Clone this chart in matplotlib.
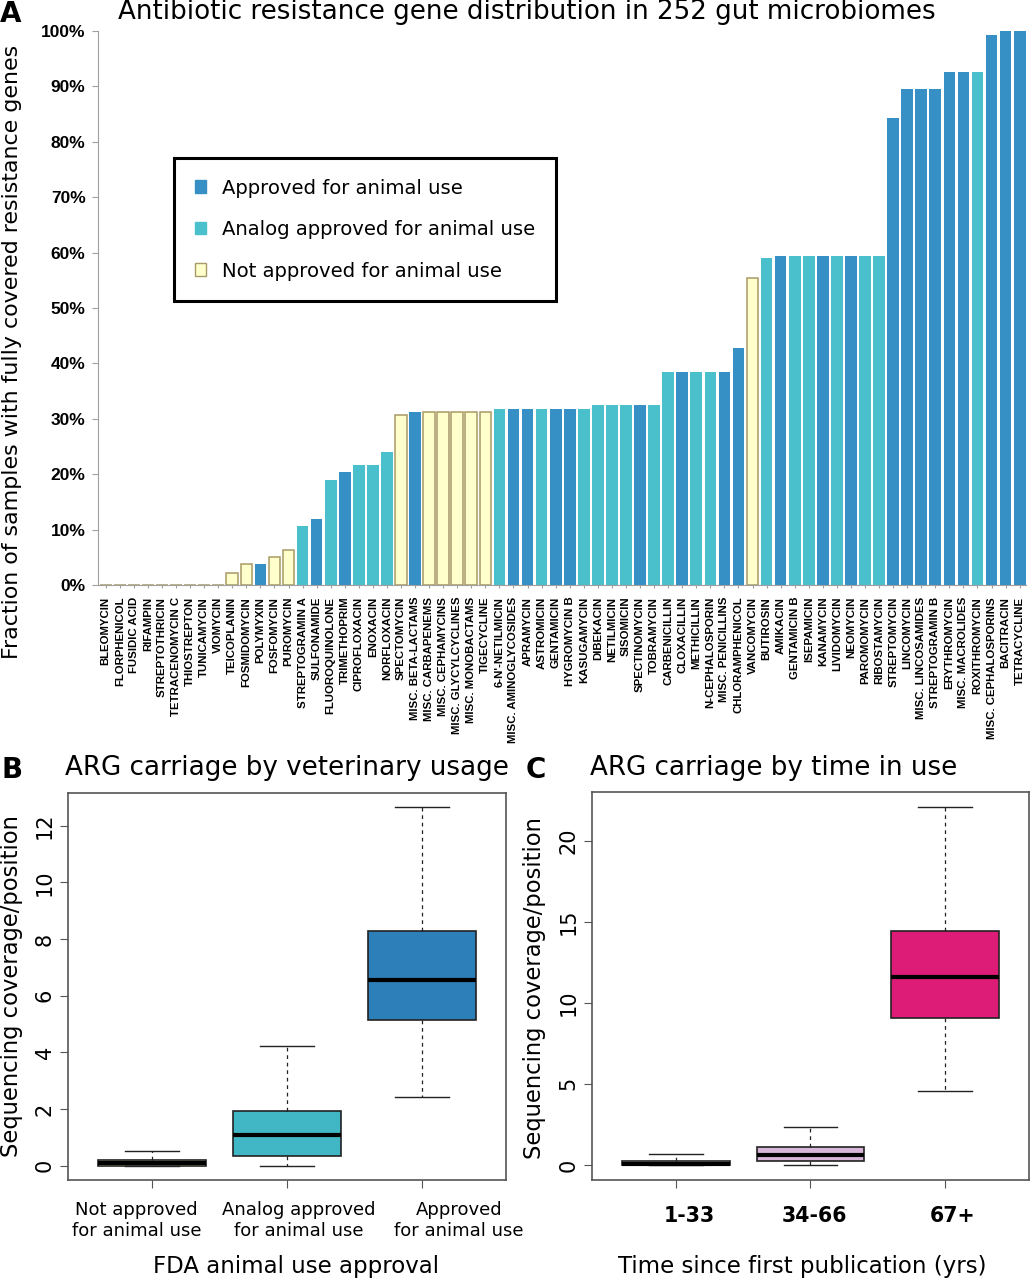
import numpy as np
import matplotlib
matplotlib.use('Agg')
import matplotlib.pyplot as plt
from matplotlib.patches import Patch

# panel A: fraction of samples (%) with fully covered resistance genes
antibiotics = [
    'BLEOMYCIN', 'FLORPHENICOL', 'FUSIDIC ACID', 'RIFAMPIN', 'STREPTOTHRICIN',
    'TETRACENOMYCIN C', 'THIOSTREPTON', 'TUNICAMYCIN', 'VIOMYCIN', 'TEICOPLANIN',
    'FOSMIDOMYCIN', 'POLYMYXIN', 'FOSFOMYCIN', 'PUROMYCIN', 'STREPTOGRAMIN A',
    'SULFONAMIDE', 'FLUOROQUINOLONE', 'TRIMETHOPRIM', 'CIPROFLOXACIN', 'ENOXACIN',
    'NORFLOXACIN', 'SPECTOMYCIN', 'MISC. BETA-LACTAMS', 'MISC. CARBAPENEMS',
    'MISC. CEPHAMYCINS', 'MISC. GLYCYLCYCLINES', 'MISC. MONOBACTAMS', 'TIGECYCLINE',
    "6-N'-NETILMICIN", 'MISC. AMINOGLYCOSIDES', 'APRAMYCIN', 'ASTROMICIN',
    'GENTAMICIN', 'HYGROMYCIN B', 'KASUGAMYCIN', 'DIBEKACIN', 'NETILMICIN',
    'SISOMICIN', 'SPECTINOMYCIN', 'TOBRAMYCIN', 'CARBENICILLIN', 'CLOXACILLIN',
    'METHICILLIN', 'N-CEPHALOSPORIN', 'MISC. PENICILLINS', 'CHLORAMPHENICOL',
    'VANCOMYCIN', 'BUTIROSIN', 'AMIKACIN', 'GENTAMICIN B', 'ISEPAMICIN',
    'KANAMYCIN', 'LIVIDOMYCIN', 'NEOMYCIN', 'PAROMOMYCIN', 'RIBOSTAMYCIN',
    'STREPTOMYCIN', 'LINCOMYCIN', 'MISC. LINCOSAMIDES', 'STREPTOGRAMIN B',
    'ERYTHROMYCIN', 'MISC. MACROLIDES', 'ROXITHROMYCIN', 'MISC. CEPHALOSPORINS',
    'BACITRACIN', 'TETRACYCLINE']

fraction = [
    0, 0, 0, 0, 0, 0, 0, 0, 0, 2.2,
    3.8, 3.8, 5.0, 6.3, 10.6, 11.9, 19.0, 20.4, 21.7, 21.7,
    24.0, 30.7, 31.2, 31.2, 31.2, 31.2, 31.2, 31.2,
    31.7, 31.7, 31.7, 31.7, 31.7, 31.7, 31.7,
    32.5, 32.5, 32.5, 32.5, 32.5,
    38.4, 38.4, 38.4, 38.4, 38.4, 42.8,
    55.4, 59.0, 59.4, 59.4, 59.4, 59.4, 59.4, 59.4, 59.4, 59.4,
    84.3, 89.5, 89.5, 89.5, 92.6, 92.6, 92.6, 99.2, 100, 100]

# A = approved, G = analog approved, N = not approved for animal use
approval = [
    'N', 'N', 'N', 'N', 'N', 'N', 'N', 'N', 'N', 'N',
    'N', 'A', 'N', 'N', 'G', 'A', 'G', 'A', 'G', 'G',
    'G', 'N', 'A', 'N', 'N', 'N', 'N', 'N',
    'G', 'A', 'A', 'G', 'A', 'A', 'G',
    'G', 'G', 'G', 'A', 'G',
    'G', 'A', 'G', 'G', 'A', 'A',
    'N', 'G', 'A', 'G', 'G', 'A', 'G', 'A', 'G', 'G',
    'A', 'A', 'A', 'A', 'A', 'A', 'G', 'A', 'A', 'A']

legend_labels = ['Approved for animal use', 'Analog approved for animal use',
                 'Not approved for animal use']

# panel B: coverage by FDA approval
b_groups = ['Not approved\nfor animal use', 'Analog approved\nfor animal use',
            'Approved\nfor animal use']
b_whislo = [0.0, 0.01, 2.43]
b_q1 = [0.0, 0.35, 5.13]
b_med = [0.10, 1.09, 6.57]
b_q3 = [0.22, 1.95, 8.27]
b_whishi = [0.53, 4.21, 12.65]

# panel C: coverage by time in use
c_groups = ['1-33', '34-66', '67+']
c_whislo = [0.0, 0.0, 4.57]
c_q1 = [0.0, 0.27, 9.09]
c_med = [0.08, 0.62, 11.62]
c_q3 = [0.27, 1.13, 14.44]
c_whishi = [0.70, 2.36, 22.07]

bar_col = {'A': '#3690c6', 'G': '#4bc0cd', 'N': '#ffffcc'}
bar_edge = {'A': 'none', 'G': 'none', 'N': '#a89a66'}
b_colors = ['#ffffcc', '#41b6c4', '#2c7fb8']
c_colors = ['#f1eef6', '#d7b5d8', '#dd1c77']

W, H = 1030, 1280
fig = plt.figure(figsize=(W / 100, H / 100), dpi=100)


def fx(x):
    return x / W


def fy(y):
    return 1 - y / H


# ---------- panel A ----------
axA = fig.add_axes([fx(98), fy(585), (1026 - 98) / W, (585 - 31) / H])
x = np.arange(len(antibiotics))
axA.bar(x, fraction, width=0.83,
        color=[bar_col[a] for a in approval],
        edgecolor=[bar_edge[a] for a in approval], linewidth=1.1)
axA.set_xlim(-0.55, len(antibiotics) - 0.55)
axA.set_ylim(0, 100)
axA.set_yticks(np.arange(0, 101, 10))
axA.set_yticklabels([f'{v}%' for v in range(0, 101, 10)],
                    family='Liberation Sans', weight='bold', fontsize=12.5)
axA.set_xticks(x)
axA.set_xticklabels(antibiotics, rotation=90, family='Liberation Sans',
                    weight='bold', fontsize=8.2, va='top', ha='center')
for s in ['top', 'right']:
    axA.spines[s].set_visible(False)
for s in ['left', 'bottom']:
    axA.spines[s].set_color('#a0a0a0')
axA.tick_params(axis='y', length=4, color='#a0a0a0', pad=5)
axA.tick_params(axis='x', length=2.5, color='#a0a0a0', pad=6)

handles = [Patch(facecolor=bar_col[k], edgecolor=bar_col[k] if k != 'N' else bar_edge[k])
           for k in ['A', 'G', 'N']]
leg = axA.legend(handles, legend_labels, loc='upper left',
                 bbox_to_anchor=(fx(174), fy(158)), bbox_transform=fig.transFigure,
                 borderaxespad=0, fontsize=14.1, handlelength=0.6, handleheight=0.6,
                 handletextpad=0.8, labelspacing=1.15, borderpad=1.05,
                 fancybox=False, framealpha=1)
leg.get_frame().set_edgecolor('black')
leg.get_frame().set_linewidth(2.2)

fig.text(fx(527), fy(12), 'Antibiotic resistance gene distribution in 252 gut microbiomes',
         fontsize=18.8, ha='center', va='center')
fig.text(fx(12), fy(352), 'Fraction of samples with fully covered resistance genes',
         fontsize=15.9, rotation=90, ha='center', va='center')
fig.text(fx(0), fy(0), 'A', fontsize=20, weight='bold', ha='left', va='top')


# ---------- panels B and C ----------
def box_panel(ax, groups, whislo, q1, med, q3, whishi, colors):
    stats = []
    for i in range(len(groups)):
        stats.append(dict(whislo=whislo[i], q1=q1[i], med=med[i], q3=q3[i],
                          whishi=whishi[i], fliers=[]))
    bp = ax.bxp(stats, positions=[1, 2, 3], widths=0.8, patch_artist=True,
                showfliers=False, capwidths=0.4,
                boxprops=dict(edgecolor='#222222', linewidth=1.2),
                medianprops=dict(color='black', linewidth=3),
                whiskerprops=dict(color='#222222', linestyle=(0, (3, 3)), linewidth=0.9),
                capprops=dict(color='#222222', linewidth=1.0))
    for patch, c in zip(bp['boxes'], colors):
        patch.set_facecolor(c)
    ax.set_xlim(0.38, 3.62)
    ax.set_xticks([1, 2, 3])
    ax.set_xticklabels([])
    for s in ax.spines.values():
        s.set_color('#555555')
        s.set_linewidth(1.2)
    ax.tick_params(length=6, color='#555555', labelsize=15)
    ax.tick_params(axis='y', labelrotation=90)
    for lab in ax.get_yticklabels():
        lab.set_va('center')


axB = fig.add_axes([fx(68), fy(1180), (506 - 68) / W, (1180 - 793) / H])
box_panel(axB, b_groups, b_whislo, b_q1, b_med, b_q3, b_whishi, b_colors)
axB.set_ylim(-0.5, 13.15)
axB.set_yticks(range(0, 13, 2))
for lab, pos in zip(b_groups, [0.885, 2.09, 3.27]):
    axB.annotate(lab, xy=(pos, 0), xycoords=('data', 'axes fraction'),
                 xytext=(0, -15), textcoords='offset points', ha='center', va='top',
                 fontsize=13, linespacing=1.2, annotation_clip=False)

axC = fig.add_axes([fx(592), fy(1180), (1029 - 592) / W, (1180 - 792) / H])
box_panel(axC, c_groups, c_whislo, c_q1, c_med, c_q3, c_whishi, c_colors)
axC.set_ylim(-0.93, 23.0)
axC.set_yticks(range(0, 21, 5))
for lab, pos in zip(c_groups, [1.10, 2.03, 3.05]):
    axC.annotate(lab, xy=(pos, 0), xycoords=('data', 'axes fraction'),
                 xytext=(0, -19), textcoords='offset points', ha='center', va='top',
                 fontsize=14.8, weight='bold', annotation_clip=False)

fig.text(fx(65), fy(768), 'ARG carriage by veterinary usage', fontsize=18.8,
         ha='left', va='center')
fig.text(fx(2), fy(770), 'B', fontsize=20, weight='bold', ha='left', va='center')
fig.text(fx(590), fy(768), 'ARG carriage by time in use', fontsize=18.8,
         ha='left', va='center')
fig.text(fx(526), fy(770), 'C', fontsize=20, weight='bold', ha='left', va='center')

fig.text(fx(12), fy(986), 'Sequencing coverage/position', fontsize=16.3,
         rotation=90, ha='center', va='center')
fig.text(fx(535), fy(988), 'Sequencing coverage/position', fontsize=16.3,
         rotation=90, ha='center', va='center')
fig.text(fx(296), fy(1267), 'FDA animal use approval', fontsize=16.5,
         ha='center', va='center')
fig.text(fx(802), fy(1267), 'Time since first publication (yrs)', fontsize=16.5,
         ha='center', va='center')

fig.savefig('out.png', dpi=100)
